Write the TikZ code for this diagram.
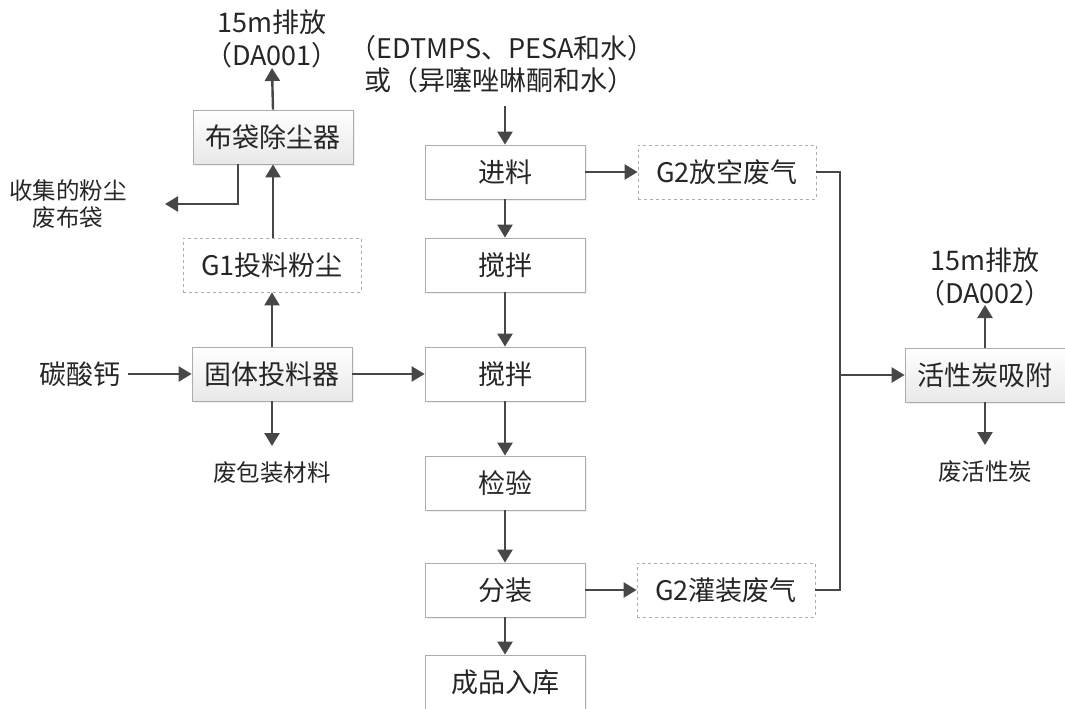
\documentclass[tikz,border=0pt]{standalone}
\usepackage{fontspec}
\setmainfont{Noto Sans CJK SC}
\usetikzlibrary{arrows.meta,shadows}
\begin{document}
\begin{tikzpicture}[x=1pt,y=-1pt,
  every node/.style={text=black!85},
  big/.style={font=\fontsize{27}{31}\selectfont},
  small/.style={font=\fontsize{23.5}{27}\selectfont},
  shd/.style={drop shadow={opacity=0.12,shadow xshift=1.5pt,shadow yshift=-1.5pt}},
  solidbox/.style={big,draw=gray!65,line width=0.8pt,minimum width=160pt,minimum height=54pt,top color=white,bottom color=gray!18,shd},
  plainbox/.style={big,draw=gray!65,line width=0.8pt,fill=white,minimum width=160pt,minimum height=54pt,shd},
  dashbox/.style={big,draw=gray!65,dashed,line width=0.8pt,minimum width=178pt,minimum height=54pt},
  conn/.style={draw=black!72,line width=2.4pt,-{Triangle[length=13pt,width=15pt]}},
  wire/.style={draw=black!72,line width=2.4pt}
]
\useasboundingbox (0,0) rectangle (1065,709);

% left column
\node[solidbox] (bag) at (273,137) {布袋除尘器};
\node[dashbox] (g1) at (272,265) {G1投料粉尘};
\node[solidbox] (feeder) at (272,374) {固体投料器};
\node[big] (caco3) at (80,374) {碳酸钙};
\node[small] (wpack) at (272,473) {废包装材料};
\node[big] (da1a) at (272,22) {15m排放};
\node[big] (da1b) at (272,55) {（DA001）};
\node[small,align=center] (dust) at (68,204) {收集的粉尘\\废布袋};
\coordinate (da1tip) at (272,68);
\coordinate (wpacktip) at (272,446);
\coordinate (dusttip) at (165,204);
\coordinate (bagbend) at (238,204);

% middle column
\node[big] (in1) at (502,48) {（EDTMPS、PESA和水）};
\node[big] (in2) at (499,80) {或（异噻唑啉酮和水）};
\coordinate (intop) at (505,106);
\node[plainbox] (feed) at (505,172) {进料};
\node[plainbox] (mix1) at (505,265) {搅拌};
\node[plainbox] (mix2) at (505,374) {搅拌};
\node[plainbox] (test) at (505,483) {检验};
\node[plainbox] (pack) at (505,590) {分装};
\node[plainbox] (store) at (505,682) {成品入库};

\node[dashbox] (g2a) at (727,172) {G2放空废气};
\node[dashbox] (g2b) at (726,590) {G2灌装废气};

% right
\node[solidbox] (act) at (985,375) {活性炭吸附};
\node[big] (da2a) at (985,260) {15m排放};
\node[big] (da2b) at (985,293) {（DA002）};
\coordinate (da2tip) at (985,305);
\node[small] (wact) at (985,472) {废活性炭};
\coordinate (wacttip) at (985,445);
\coordinate (ct) at (840,172);
\coordinate (cm) at (840,375);
\coordinate (cb) at (840,590);
\coordinate (catip) at (128,374);

% connectors left
\draw[conn] (bag.north) -- (da1tip);
\draw[conn] (g1.north -| bag.south) -- (bag.south);
\draw[conn] (feeder.north) -- (g1.south);
\draw[conn] (catip) -- (feeder.west);
\draw[conn] (feeder.south) -- (wpacktip);
\draw[conn] (bag.south -| bagbend) -- (bagbend) -- (dusttip);
\draw[conn] (feeder.east) -- (mix2.west);

% connectors middle
\draw[conn] (intop) -- (feed.north);
\draw[conn] (feed.south) -- (mix1.north);
\draw[conn] (mix1.south) -- (mix2.north);
\draw[conn] (mix2.south) -- (test.north);
\draw[conn] (test.south) -- (pack.north);
\draw[conn] (pack.south) -- (store.north);
\draw[conn] (feed.east) -- (g2a.west);
\draw[conn] (pack.east) -- (g2b.west);

% collector
\draw[wire] (g2a.east) -- (ct) -- (cb) -- (g2b.east);
\draw[conn] (cm) -- (act.west);
\draw[conn] (act.north) -- (da2tip);
\draw[conn] (act.south) -- (wacttip);
\end{tikzpicture}
\end{document}
